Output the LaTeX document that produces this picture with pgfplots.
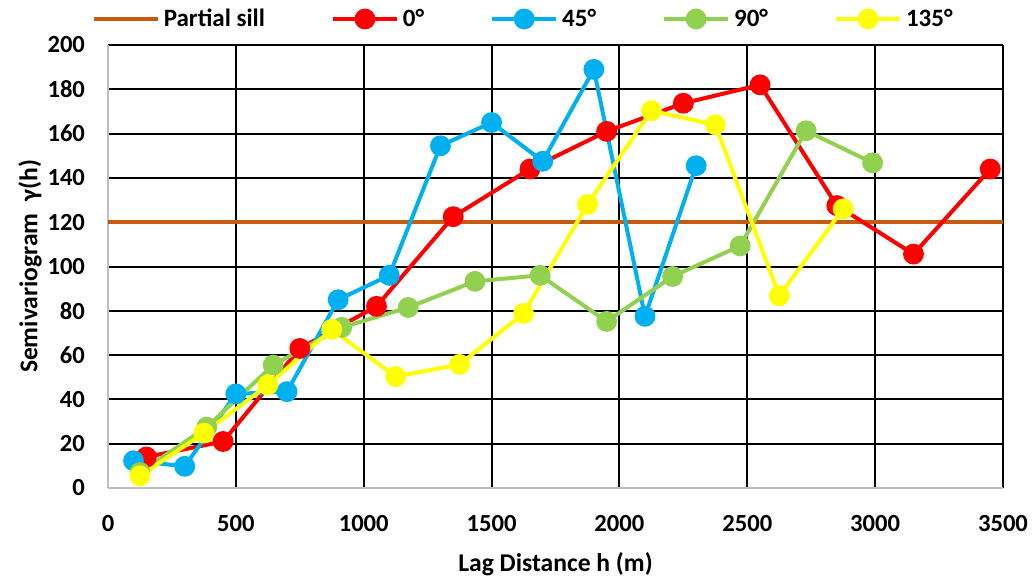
\documentclass[border=0pt]{standalone}
\usepackage{fontspec}
\setmainfont{Carlito}
\usepackage{pgfplots}
\pgfplotsset{compat=1.18}
\definecolor{sill}{HTML}{C55A11}
\definecolor{cred}{HTML}{FF0000}
\definecolor{cblue}{HTML}{00B0F0}
\definecolor{cgreen}{HTML}{92D050}
\definecolor{cyellow}{HTML}{FFFF00}
\definecolor{axgray}{HTML}{BFBFBF}
\begin{document}
\begin{tikzpicture}
\path[use as bounding box] (-54pt,-45.5pt) rectangle (462pt,244pt);
\begin{axis}[
  scale only axis,
  width=447.5pt, height=221.5pt,
  xmin=0, xmax=3500, ymin=0, ymax=200,
  xtick={0,500,...,3500}, ytick={0,20,...,200},
  grid=major,
  major grid style={black, line width=1pt},
  axis x line*=bottom, axis y line*=left,
  axis line style={axgray, line width=1pt, -},
  major tick length=0pt,
  /pgf/number format/assume math mode=true,
  /pgf/number format/1000 sep={},
  tick label style={font=\bfseries\fontsize{12.3}{14}\selectfont},
  xticklabel style={yshift=-10pt},
  yticklabel style={xshift=-8pt},
  label style={font=\bfseries\fontsize{12.8}{14}\selectfont},
  xlabel={Lag Distance h (m)},
  ylabel={Semivariogram\ \ γ(h)},
  xlabel style={at={(axis description cs:0.5,-0.172)}, anchor=center},
  ylabel style={at={(axis description cs:-0.087,0.5)}, anchor=center},
  legend style={at={(axis description cs:0.465,1)}, anchor=center, yshift=13pt,
    draw=none, fill=none, legend columns=5,
    font=\bfseries\fontsize{12.5}{14}\selectfont,
    /tikz/every even column/.append style={column sep=31pt}},
  legend image code/.code={
    \draw[#1, mark=none] (0pt,0pt) -- (32pt,0pt);
    \draw[#1, only marks] plot coordinates {(16pt,0pt)};
  },
  clip=false,
]
\addplot[sill, line width=2pt, mark=none] coordinates {(0,120) (3500,120)};
\addlegendentry{Partial sill}
\addplot[cred, line width=2pt, mark=*, mark size=4.2pt, mark options={solid, fill=cred, draw=cred}] coordinates {
(150,14) (450,21) (750,63) (1050,82) (1350,122.5) (1650,144) (1950,161) (2250,173.7) (2550,182) (2850,127.5) (3150,105.6) (3450,144)};
\addlegendentry{0°}
\addplot[cblue, line width=2pt, mark=*, mark size=4.2pt, mark options={solid, fill=cblue, draw=cblue}] coordinates {
(100,12.3) (300,9.8) (500,42.5) (700,43.5) (900,85) (1100,96) (1300,154.5) (1500,165) (1700,147.5) (1900,189) (2100,77.5) (2300,145.5)};
\addlegendentry{45°}
\addplot[cgreen, line width=2pt, mark=*, mark size=4.2pt, mark options={solid, fill=cgreen, draw=cgreen}] coordinates {
(125,7) (386,27.5) (646,55.5) (914,72.5) (1174,81.5) (1435,93.3) (1690,96) (1950,75.2) (2208,95.5) (2472,109.3) (2730,161.3) (2990,146.8)};
\addlegendentry{90°}
\addplot[cyellow, line width=2pt, mark=*, mark size=4.2pt, mark options={solid, fill=cyellow, draw=cyellow}] coordinates {
(125,5.5) (375,24.8) (625,46.5) (875,71.6) (1125,50.3) (1375,55.8) (1625,78.8) (1875,128) (2125,170.3) (2375,164) (2625,86.8) (2875,126)};
\addlegendentry{135°}
\end{axis}
\end{tikzpicture}
\end{document}
